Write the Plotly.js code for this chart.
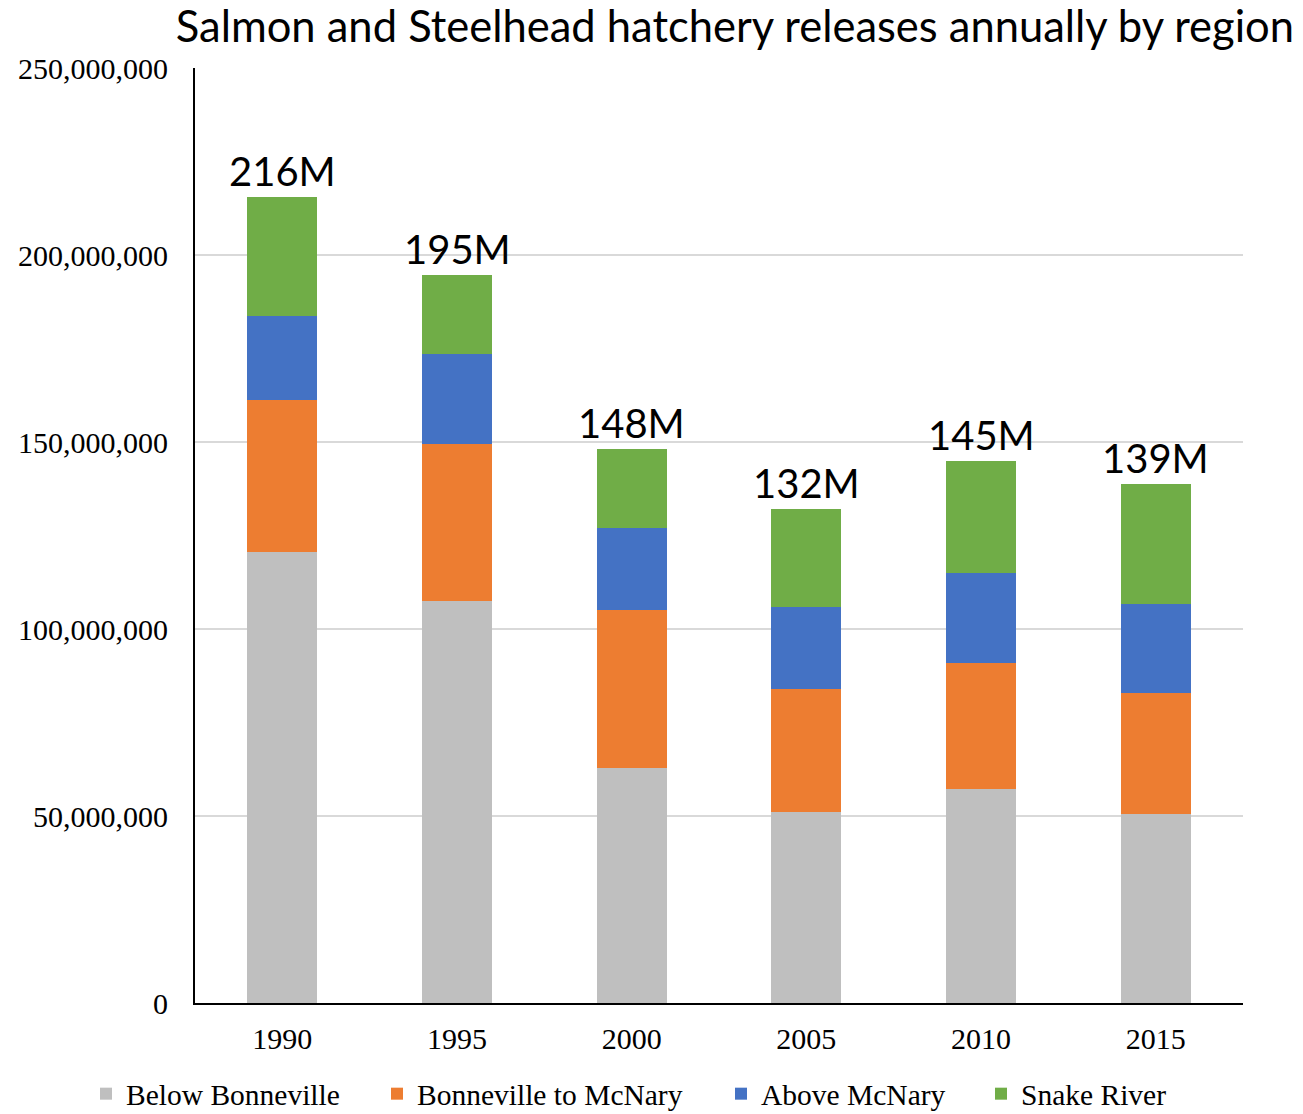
<!DOCTYPE html>
<html>
<head>
<meta charset="utf-8">
<script src="https://cdn.plot.ly/plotly-3.0.1.min.js"></script>
<style>html,body{margin:0;padding:0;background:#fff;}#chart{width:1303px;height:1114px;}</style>
</head>
<body>
<div id="chart"></div>
<script>
const years = ['1990', '1995', '2000', '2005', '2010', '2015'];
const belowBonneville = [120.5e6, 107.6e6, 62.8e6, 51.0e6, 57.2e6, 50.5e6];
const bonnevilleToMcNary = [40.6e6, 42.0e6, 42.4e6, 32.9e6, 33.6e6, 32.3e6];
const aboveMcNary = [22.7e6, 24.0e6, 21.9e6, 22.1e6, 24.3e6, 23.8e6];
const snakeRiver = [31.8e6, 21.1e6, 21.1e6, 26.2e6, 29.7e6, 32.3e6];
const seriesNames = ['Below Bonneville', 'Bonneville to McNary', 'Above McNary', 'Snake River'];
const yTickValues = [0, 50e6, 100e6, 150e6, 200e6, 250e6];

const seriesData = [belowBonneville, bonnevilleToMcNary, aboveMcNary, snakeRiver];
const colors = ['#BFBFBF', '#ED7D31', '#4472C4', '#70AD47'];
const legendIds = ['legend', 'legend2', 'legend3', 'legend4'];
const legendLeft = [86, 377, 721, 981];

const traces = seriesData.map((vals, i) => ({
  type: 'bar',
  name: seriesNames[i],
  x: years,
  y: vals,
  legend: legendIds[i],
  marker: {color: colors[i], line: {width: 0}},
  hoverinfo: 'x+y+name'
}));

const totals = years.map((_, j) => seriesData.reduce((s, arr) => s + arr[j], 0));
const annotations = years.map((yr, j) => ({
  x: j, y: totals[j], xref: 'x', yref: 'y',
  text: Math.round(totals[j] / 1e6) + 'M',
  showarrow: false, yanchor: 'bottom', xanchor: 'center', yshift: 0,
  font: {family: 'Lato, "Open Sans", sans-serif', size: 40, color: '#000000'}
}));

const legendFont = {family: '"Liberation Serif", "Times New Roman", serif', size: 29.5, color: '#000000'};

const layout = {
  width: 1303, height: 1114,
  paper_bgcolor: '#ffffff', plot_bgcolor: '#ffffff',
  margin: {l: 195, r: 60, t: 68, b: 111, pad: 0},
  barmode: 'stack',
  bargap: 0.6,
  title: {
    text: 'Salmon and Steelhead hatchery releases annually by region',
    xref: 'container', yref: 'container', x: 0.564, y: 1 - 27 / 1114,
    xanchor: 'center', yanchor: 'middle',
    font: {family: 'Lato, "Open Sans", sans-serif', size: 43.5, color: '#000000'}
  },
  xaxis: {
    type: 'category',
    categoryarray: years, categoryorder: 'array',
    range: [-0.5, years.length - 0.5],
    showline: true, linecolor: '#000000', linewidth: 2,
    showgrid: false, ticks: '', ticklabelstandoff: 8,
    tickfont: {family: '"Liberation Serif", "Times New Roman", serif', size: 30, color: '#000000'},
    fixedrange: true
  },
  yaxis: {
    range: [0, 250e6],
    tickvals: yTickValues,
    tickformat: ',d',
    showline: true, linecolor: '#000000', linewidth: 2,
    showgrid: true, gridcolor: '#D9D9D9', gridwidth: 1.5,
    zeroline: false, ticks: '', ticklabelstandoff: 19,
    tickfont: {family: '"Liberation Serif", "Times New Roman", serif', size: 30, color: '#000000'},
    fixedrange: true
  },
  annotations: annotations,
  showlegend: true
};

legendIds.forEach((id, i) => {
  layout[id] = {
    orientation: 'h',
    x: legendLeft[i] / 1303, xref: 'container', xanchor: 'left',
    y: 1 - 1094 / 1114, yref: 'container', yanchor: 'middle',
    font: legendFont, itemwidth: 30, bgcolor: 'rgba(0,0,0,0)'
  };
});

Plotly.newPlot('chart', traces, layout, {displayModeBar: false, staticPlot: false});
</script>
</body>
</html>
